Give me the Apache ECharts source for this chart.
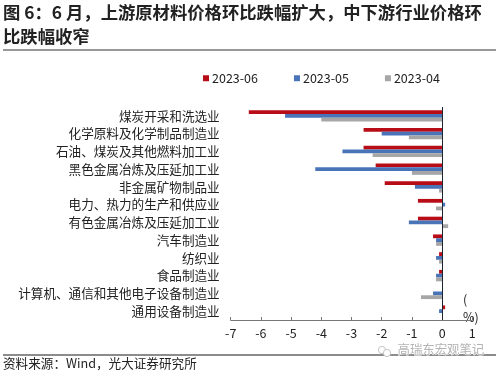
<!DOCTYPE html>
<html><head><meta charset="utf-8">
<style>html,body{margin:0;padding:0;background:#fff}#c{width:500px;height:373px}</style>
<script src="https://cdn.jsdelivr.net/npm/echarts@6/dist/echarts.min.js"></script>
</head><body><div id="c"></div>
<script>
const categories = ['煤炭开采和洗选业','化学原料及化学制品制造业','石油、煤炭及其他燃料加工业','黑色金属冶炼及压延加工业','非金属矿物制品业','电力、热力的生产和供应业','有色金属冶炼及压延加工业','汽车制造业','纺织业','食品制造业','计算机、通信和其他电子设备制造业','通用设备制造业'];
const jun2023 = [-6.4,-2.6,-2.6,-2.2,-1.9,-0.8,-0.8,-0.3,-0.1,-0.1,0,0.1];
const may2023 = [-5.2,-2.0,-3.3,-4.2,-0.9,0.1,-1.1,-0.2,-0.2,-0.2,-0.3,-0.1];
const apr2023 = [-4.0,-1.1,-2.3,-1.0,-0.1,-0.2,0.2,-0.2,-0.1,-0.2,-0.7,0];
const seriesNames = ['2023-06','2023-05','2023-04'];
const colors = ['#b80d17','#4a74b8','#a6a6a6'];
const font = '"Noto Sans CJK SC","Noto Sans",sans-serif';
const chart = echarts.init(document.getElementById('c'),null,{renderer:'canvas'});
const values=[jun2023,may2023,apr2023];
chart.setOption({
  animation:false,
  title:{text:'图 6：6 月，上游原材料价格环比跌幅扩大，中下游行业价格环\n比跌幅收窄',left:-2,top:-5,
    textStyle:{fontFamily:font,fontSize:17.33,fontWeight:'bold',color:'#222',lineHeight:24.5}},
  legend:{data:seriesNames,left:198,top:67,itemWidth:6,itemHeight:6,itemGap:36,icon:'rect',
    textStyle:{fontFamily:font,fontSize:12.5,color:'#222',padding:[0,0,0,-2]}},
  grid:{left:230.7,right:27.7,top:107,bottom:53,outerBoundsMode:'none'},
  xAxis:{type:'value',min:-7,max:1,interval:1,
    axisLine:{show:true,lineStyle:{color:'#777',width:1}},
    axisTick:{show:true,inside:true,length:3,lineStyle:{color:'#777'}},
    splitLine:{show:false},
    axisLabel:{fontFamily:font,fontSize:12.5,color:'#222',margin:7}},
  yAxis:{type:'category',inverse:true,data:categories,
    axisLine:{show:false,onZero:false},axisTick:{show:false},
    axisLabel:{fontFamily:font,fontSize:12.6,color:'#222',margin:11,interval:0,padding:[0,0,2,0]}},
  series:seriesNames.map((n,i)=>({name:n,type:'bar',data:values[i],barWidth:3.8,barGap:'0%',
    itemStyle:{color:colors[i]},
    markLine:i===0?{silent:true,symbol:'none',label:{show:false},lineStyle:{color:'#1c2430',width:1,type:'solid'},data:[{xAxis:0}]}:undefined})),
  graphic:[
    {type:'line',shape:{x1:3,y1:50,x2:496,y2:50},style:{stroke:'#333',lineWidth:1.2}},
    {type:'line',shape:{x1:3,y1:355,x2:496,y2:355},style:{stroke:'#666',lineWidth:1.6}},
    {type:'text',left:3,top:357,style:{text:'资料来源：Wind，光大证券研究所',font:'12.6px '+font,fill:'#222'}},
    {type:'text',left:463,top:293,style:{text:'(',font:'12.5px '+font,fill:'#222'}},
    {type:'text',left:463,top:311,style:{text:'%)',font:'12.5px '+font,fill:'#222'}},
    {type:'circle',shape:{cx:382,cy:350,r:3.6},style:{fill:'#fff',stroke:'#c4c4c4',lineWidth:1}},
    {type:'circle',shape:{cx:387,cy:353,r:3.6},style:{fill:'#fff',stroke:'#c4c4c4',lineWidth:1}},
    {type:'text',left:397,top:343,style:{text:'高瑞东宏观笔记',font:'12.4px '+font,fill:'#b4b4b4',stroke:'#fff',lineWidth:1}}
  ]
});
</script></body></html>
